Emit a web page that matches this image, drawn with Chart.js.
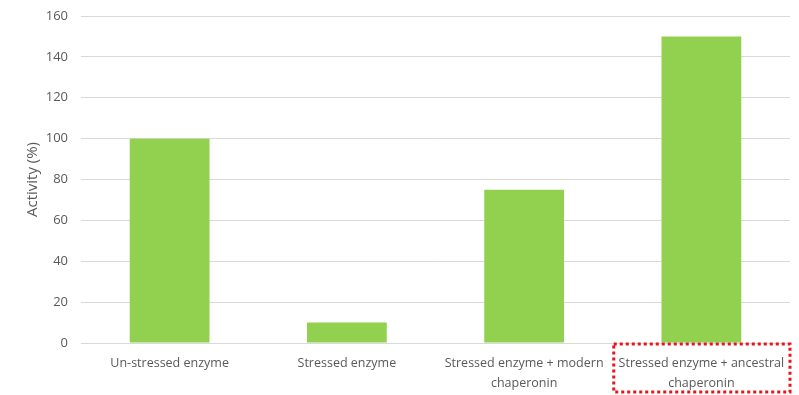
<!DOCTYPE html>
<html>
<head>
<meta charset="utf-8">
<script src="https://cdn.jsdelivr.net/npm/chart.js@4/dist/chart.umd.min.js"></script>
<style>
  html, body { margin: 0; padding: 0; background: #fff; }
  #wrap { width: 799px; height: 395px; position: relative; }
</style>
</head>
<body>
<div id="wrap"><canvas id="c"></canvas></div>
<script>
const categories = [
  "Un-stressed enzyme",
  "Stressed enzyme",
  ["Stressed enzyme + modern", "chaperonin"],
  ["Stressed enzyme + ancestral", "chaperonin"]
];
const activity = [100, 10, 75, 150];
const yTicks = [0, 20, 40, 60, 80, 100, 120, 140, 160];
const highlightIndex = 3;

const textColor = "#595959";
const fontFamily = "'Open Sans', 'Noto Sans', sans-serif";

// Dotted red frame around the highlighted category label
const highlightBox = {
  id: "highlightBox",
  afterDraw(chart) {
    const x = chart.scales.x;
    const centre = x.getPixelForValue(highlightIndex);
    const half = (x.right - x.left) / categories.length / 2;
    const ctx = chart.ctx;
    ctx.save();
    ctx.strokeStyle = "#e8141b";
    ctx.lineWidth = 3;
    ctx.setLineDash([3, 3]);
    ctx.strokeRect(centre - half + 1, chart.chartArea.bottom + 1, half * 2 - 1, 48);
    ctx.restore();
  }
};

new Chart(document.getElementById("c"), {
  type: "bar",
  data: {
    labels: categories,
    datasets: [{
      data: activity,
      backgroundColor: "#92d050",
      borderWidth: 0,
      barPercentage: 0.9,
      categoryPercentage: 0.5
    }]
  },
  options: {
    responsive: true,
    maintainAspectRatio: false,
    animation: false,
    layout: { padding: { top: 16, right: 9, left: 0, bottom: 0 } },
    plugins: { legend: { display: false }, tooltip: { enabled: false } },
    scales: {
      x: {
        grid: { display: false, drawTicks: false },
        border: { display: false },
        ticks: {
          color: textColor,
          font: { family: fontFamily, size: 12.5, lineHeight: 1.55 },
          padding: 11,
          maxRotation: 0,
          autoSkip: false
        },
        afterFit(scale) { scale.height = 52; }
      },
      y: {
        min: 0,
        max: 160,
        afterBuildTicks(scale) { scale.ticks = yTicks.map(v => ({ value: v })); },
        grid: { color: "#d9d9d9", lineWidth: 1, drawTicks: false },
        border: { display: false },
        ticks: {
          color: textColor,
          font: { family: fontFamily, size: 13 },
          padding: 13
        },
        title: {
          display: true,
          text: "Activity (%)",
          color: textColor,
          font: { family: fontFamily, size: 15 },
          padding: { top: 24, bottom: 4 }
        },
        afterFit(scale) {
          scale.width = 81;
          scale.paddingTop = 0;
          scale.paddingBottom = 0;
        }
      }
    }
  },
  plugins: [highlightBox]
});
</script>
</body>
</html>
